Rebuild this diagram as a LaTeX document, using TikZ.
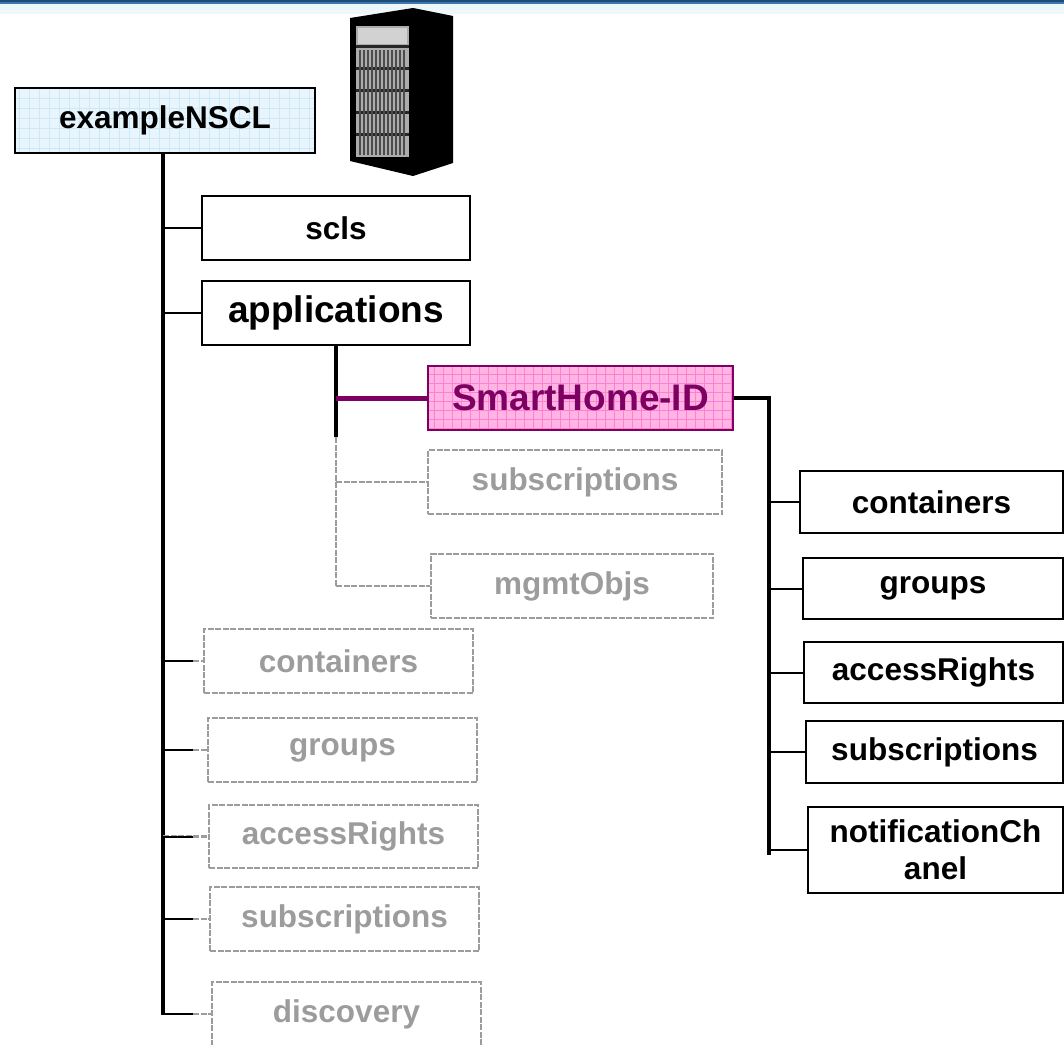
\documentclass[tikz,border=0pt]{standalone}
\usepackage{fontspec}
\setmainfont{Liberation Sans}
\definecolor{nsclfill}{HTML}{E8F5FC}
\definecolor{nsclgrid}{HTML}{CFE8F7}
\definecolor{appfill}{HTML}{FFB4E4}
\definecolor{appgrid}{HTML}{FF80D2}
\definecolor{appline}{HTML}{7F0063}
\definecolor{ghostgray}{HTML}{9C9C9C}
\definecolor{bardark}{HTML}{1D4C78}
\definecolor{barmid}{HTML}{3C78AE}
\definecolor{barlight}{HTML}{EEF8FB}
\begin{document}
\begin{tikzpicture}[x=1pt, y=-1pt,
      every node/.style = {shape=rectangle, inner sep=0pt, align=center, font=\fontsize{31.5}{36.7}\selectfont\bfseries},
      box/.style = {draw, line width=2pt, fill=white},
      bigbox/.style = {box, font=\fontsize{37}{40}\selectfont\bfseries},
      ghost/.style = {draw=ghostgray, line width=2pt, dash pattern=on 6pt off 1.5pt, text=ghostgray},
      rootbox/.style = {box, fill=nsclfill, path picture={\draw[nsclgrid, line width=0.6pt] (path picture bounding box.south west) grid[step=10pt] (path picture bounding box.north east);}},
      appbox/.style = {draw=appline, line width=2pt, fill=appfill, text=appline, font=\fontsize{37}{40}\selectfont\bfseries,
        path picture={\draw[appgrid, line width=0.6pt] (path picture bounding box.south west) grid[step=9pt] (path picture bounding box.north east);}},
      trunk/.style = {line width=3.2pt},
      branch/.style = {line width=2pt},
      hot/.style = {draw=appline, line width=5pt},
      ghostline/.style = {draw=ghostgray, line width=2.4pt, dash pattern=on 6pt off 1.5pt}]
      \useasboundingbox (0,0) rectangle (1064,1044);
      \fill[barlight] (0,4) rectangle (1064,14);
      \fill[barmid] (0,0) rectangle (1064,4);
      \fill[bardark] (0,0) rectangle (1064,2);
      % server rack
      \fill[black] (350,18) -- (413,8) -- (453,16) -- (453,163) -- (413,176) -- (350,161) -- cycle;
      \fill[gray!65] (356,26) rectangle (409,157);
      \fill[gray!35] (358,28) rectangle (407,44);
      \foreach \y in {45,67,89,111,133}
        \fill[black!85] (356,\y) rectangle (409,\y+3);
      \foreach \x in {360,364,...,406}
        \draw[black!70, line width=1.2pt] (\x,50) -- (\x,155);

      \node[rootbox, minimum width=300, minimum height=65] (nscl) at (165,120.5) {exampleNSCL};
      \node[box, minimum width=268, minimum height=64] (scls) at (336,228) {scls};
      \node[bigbox, minimum width=268, minimum height=64] (apps) at (336,312.5) {applications};
      \node[appbox, minimum width=305, minimum height=64] (smart) at (580.5,398) {SmartHome-ID};
      \node[ghost, minimum width=294, minimum height=64] (asubs) at (575,482) {subscriptions};
      \node[ghost, minimum width=282, minimum height=64] (amgmt) at (572,586) {mgmtObjs};

      \node[box, minimum width=263, minimum height=62] (rcont) at (931.5,502) {containers};
      \node[box, minimum width=260, minimum height=61] (rgroups) at (933,588.5) {groups};
      \node[box, minimum width=259, minimum height=61] (rrights) at (933.5,672.5) {accessRights};
      \node[box, minimum width=257, minimum height=62] (rsubs) at (934.5,752) {subscriptions};
      \node[box, minimum width=255, minimum height=86] (rnotif) at (935.5,850) {notificationCh\\anel};

      \node[ghost, minimum width=269, minimum height=64] (gcont) at (338.5,661) {containers};
      \node[ghost, minimum width=269, minimum height=64] (ggroups) at (342.5,750) {groups};
      \node[ghost, minimum width=269, minimum height=63] (grights) at (343.5,836.5) {accessRights};
      \node[ghost, minimum width=269, minimum height=64] (gsubs) at (344.5,919) {subscriptions};
      \node[ghost, minimum width=269, minimum height=64] (gdisc) at (346.5,1014) {discovery};

      \coordinate (trunkend) at (163,1015);
      \coordinate (stemmid) at (336,437);
      \coordinate (stemend) at (336,587);
      \coordinate (rightend) at (769,855);

      \draw[trunk] (nscl.south -| trunkend) -- (trunkend);
      \draw[branch] (scls.west -| trunkend) -- (scls.west);
      \draw[branch] (apps.west -| trunkend) -- (apps.west);
      \foreach \g in {gcont, ggroups, grights, gsubs, gdisc} {
        \draw[ghostline] (\g.west -| trunkend) -- (\g.west);
        \draw[branch] (\g.west -| trunkend) -- ++(30,0);
      }

      \draw[trunk] (apps.south) -- (stemmid);
      \draw[ghostline] (stemmid) -- (stemend);
      \draw[hot] (apps.south |- smart.west) -- (smart.west);
      \draw[ghostline] (asubs.west -| stemend) -- (asubs.west);
      \draw[ghostline] (amgmt.west -| stemend) -- (amgmt.west);

      \draw[trunk] (smart.east) -| (rightend);
      \foreach \r in {rcont, rgroups, rrights, rsubs, rnotif}
        \draw[branch] (\r.west -| rightend) -- (\r.west);
    \end{tikzpicture}
\end{document}
